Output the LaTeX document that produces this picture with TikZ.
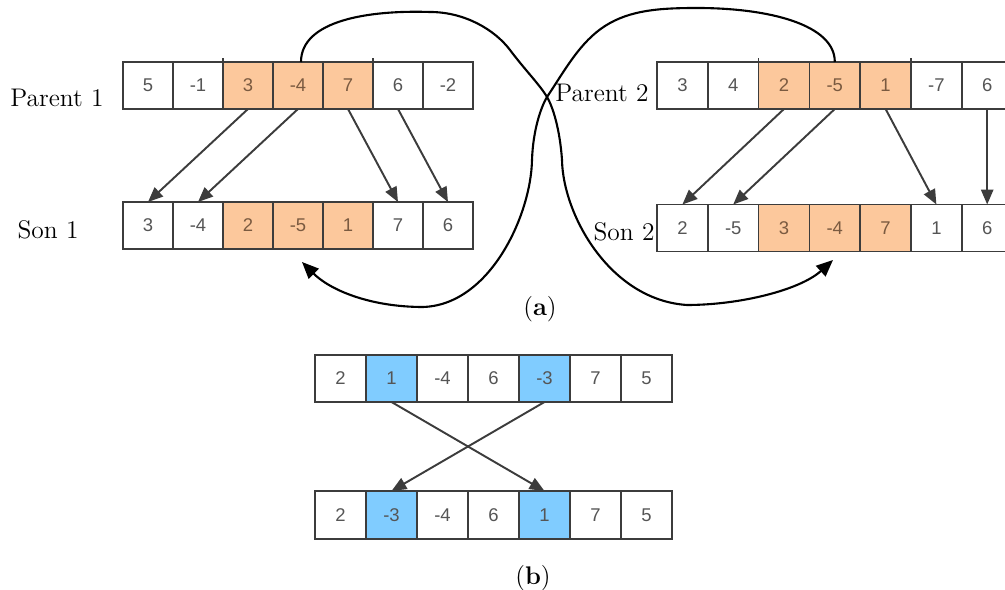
\documentclass[tikz,border=0pt]{standalone}
\usepackage{fontspec}
\newfontfamily\numfont{Liberation Sans}
\usetikzlibrary{arrows.meta}
\definecolor{org}{HTML}{FCC89C}
\definecolor{blu}{HTML}{80CCFF}
\definecolor{edge}{HTML}{3C3C3C}
\definecolor{numg}{HTML}{555555}
\definecolor{numo}{HTML}{7A5A40}
\begin{document}
\begin{tikzpicture}[x=0.02cm,y=-0.02cm,
  cell/.style={draw=edge,line width=1pt,minimum height=0.94cm,inner sep=0pt,outer sep=0pt,
    font=\numfont\fontsize{10.5}{12}\selectfont},
  gar/.style={draw=edge,line width=1.1pt,-{Triangle[length=8.5pt,width=7pt]}},
  big/.style={draw=black,line width=1.2pt,-{Triangle[length=9.5pt,width=8pt]}},
  tick/.style={draw=edge,line width=1pt},
  lab/.style={font=\fontsize{14.5}{17}\selectfont}]
\clip (0,0) rectangle (1005,590);
% Parent 1
\foreach \v/\c/\t [count=\i] in {5/white/numg,-1/white/numg,3/org/numo,-4/org/numo,7/org/numo,6/white/numg,-2/white/numg}
  \node[cell,minimum width=1cm,fill=\c,text=\t] (pa\i) at ({123+(\i-0.5)*50},85.5) {\v};
% Son 1
\foreach \v/\c/\t [count=\i] in {3/white/numg,-4/white/numg,2/org/numo,-5/org/numo,1/org/numo,7/white/numg,6/white/numg}
  \node[cell,minimum width=1cm,fill=\c,text=\t] (sa\i) at ({123+(\i-0.5)*50},225.5) {\v};
% Parent 2
\foreach \v/\c/\t [count=\i] in {3/white/numg,4/white/numg,2/org/numo,-5/org/numo,1/org/numo,-7/white/numg,6/white/numg}
  \node[cell,minimum width=1.016cm,fill=\c,text=\t] (pb\i) at ({657+(\i-0.5)*50.8},85.5) {\v};
% Son 2
\foreach \v/\c/\t [count=\i] in {2/white/numg,-5/white/numg,3/org/numo,-4/org/numo,7/org/numo,1/white/numg,6/white/numg}
  \node[cell,minimum width=1.016cm,fill=\c,text=\t] (sb\i) at ({657+(\i-0.5)*50.8},228) {\v};
% (b) top
\foreach \v/\c [count=\i] in {2/white,1/blu,-4/white,6/white,-3/blu,7/white,5/white}
  \node[cell,minimum width=1.02cm,fill=\c,text=numg] (ta\i) at ({315+(\i-0.5)*51},378.5) {\v};
% (b) bottom
\foreach \v/\c [count=\i] in {2/white,-3/blu,-4/white,6/white,1/blu,7/white,5/white}
  \node[cell,minimum width=1.02cm,minimum height=0.96cm,fill=\c,text=numg] (tb\i) at ({315+(\i-0.5)*51},515) {\v};
% small ticks at the segment boundaries
\draw[tick] (pa3.north west) -- ++(0,-4);
\draw[tick] (pa5.north east) -- ++(0,-4);
\draw[tick] (pb3.north west) -- ++(0,-4);
\draw[tick] (pb5.north east) -- ++(0,-4);
% straight arrows (a)
\draw[gar] (pa3.south) -- (sa1.north);
\draw[gar] (pa4.south) -- (sa2.north);
\draw[gar] (pa5.south) -- (sa6.north);
\draw[gar] (pa6.south) -- (sa7.north);
\draw[gar] (pb3.south) -- (sb1.north);
\draw[gar] (pb4.south) -- (sb2.north);
\draw[gar] (pb5.south) -- (sb6.north);
\draw[gar] (pb7.south) -- (sb7.north);
% straight arrows (b)
\draw[gar] (ta2.south) -- (tb5.north);
\draw[gar] (ta5.south) -- (tb2.north);
% curves
\coordinate (tipA) at (833,260);
\coordinate (tipB) at (302,262);
\draw[big] ([xshift=0.06cm]pa4.north) .. controls (301,20) and (370,10) .. (430,12)
  .. controls (465,12) and (495,30) .. (510,50)
  .. controls (525,70) and (540,85) .. (547,97)
  .. controls (553,107) and (560,130) .. (562,160)
  .. controls (563,215) and (610,300) .. (687,305)
  .. controls (740,305) and (800,290) .. (tipA);
\draw[big] (pb4.north) .. controls (835,25) and (770,8) .. (697,8)
  .. controls (660,8) and (630,10) .. (605,26)
  .. controls (580,42) and (565,70) .. (547,97)
  .. controls (541,107) and (533,130) .. (532,160)
  .. controls (531,215) and (490,305) .. (423,307)
  .. controls (370,307) and (330,290) .. (tipB);
% labels
\node[lab] (l1) at (57,98) {Parent 1};
\node[lab] (l2) at (48,230) {Son 1};
\node[lab] (l3) at (602,93) {Parent 2};
\node[lab] (l4) at (624,232) {Son 2};
\node[lab] (ca) at (540,309) {(\textbf{a})};
\node[lab] (cb) at (533,578) {(\textbf{b})};
\end{tikzpicture}
\end{document}
